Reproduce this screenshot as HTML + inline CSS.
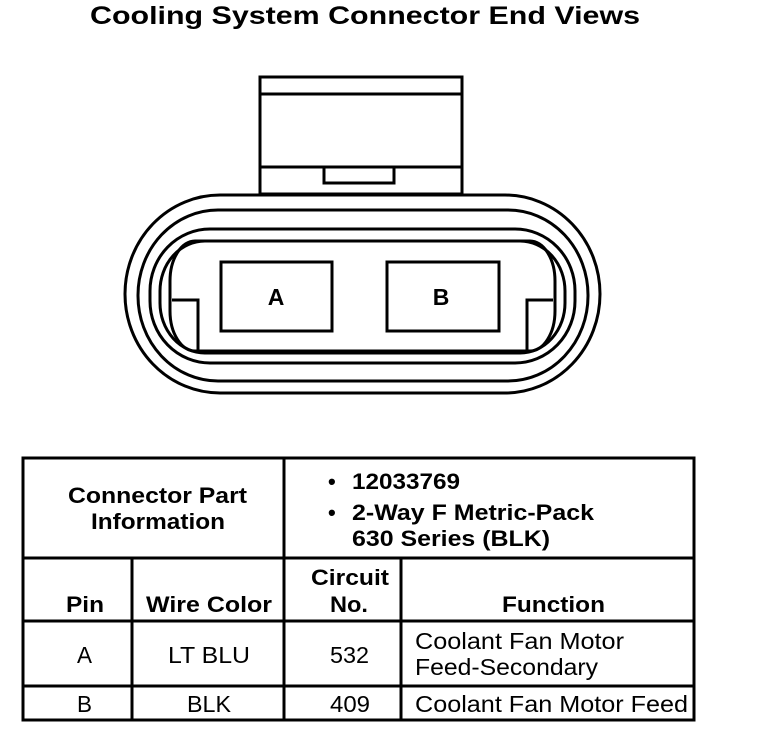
<!DOCTYPE html>
<html><head><style>
body{margin:0;width:768px;height:732px;background:#fff;overflow:hidden;font-family:"Liberation Sans",sans-serif;}
</style></head><body>
<svg width="768" height="732" viewBox="0 0 768 732" xmlns="http://www.w3.org/2000/svg" style="position:absolute;left:0;top:0">
<text x="90" y="24" textLength="550" lengthAdjust="spacingAndGlyphs" font-family="Liberation Sans" font-weight="bold" font-size="25" fill="#000">Cooling System Connector End Views</text>
<g fill="none" stroke="#000" stroke-width="3">
<rect x="260" y="77" width="202" height="117"/>
<line x1="260" y1="94" x2="462" y2="94"/>
<line x1="260" y1="167" x2="462" y2="167"/>
<rect x="324" y="167" width="70" height="16"/>
<rect x="125" y="195" width="475" height="198" rx="95" ry="99" fill="#fff"/>
<rect x="138" y="210" width="450" height="171" rx="80" ry="85"/>
<rect x="150" y="229" width="425" height="134" rx="60" ry="62"/>
<rect x="160" y="241" width="405" height="112" rx="45" ry="50"/>
<rect x="170" y="241" width="385" height="110" rx="25" ry="40"/>
<rect x="221" y="262" width="111" height="69"/>
<rect x="387" y="262" width="112" height="69"/>
<polyline points="172,300 198,300 198,350"/>
<polyline points="553,300 527,300 527,350"/>
</g>
<text x="276" y="305" text-anchor="middle" font-weight="bold" font-size="23">A</text>
<text x="441" y="305" text-anchor="middle" font-weight="bold" font-size="23">B</text>
<g stroke="#000" stroke-width="3" fill="none">
<rect x="23" y="458" width="671" height="262"/>
<line x1="23" y1="558" x2="694" y2="558"/>
<line x1="23" y1="621" x2="694" y2="621"/>
<line x1="23" y1="686" x2="694" y2="686"/>
<line x1="284" y1="458" x2="284" y2="720"/>
<line x1="132" y1="558" x2="132" y2="720"/>
<line x1="401" y1="558" x2="401" y2="720"/>
</g>
<g font-size="22" font-weight="bold" fill="#000" lengthAdjust="spacingAndGlyphs">
<text x="68" y="503" textLength="179" lengthAdjust="spacingAndGlyphs">Connector Part</text>
<text x="91" y="529" textLength="134" lengthAdjust="spacingAndGlyphs">Information</text>
<text x="328" y="489">•</text>
<text x="352" y="489" textLength="108" lengthAdjust="spacingAndGlyphs">12033769</text>
<text x="328" y="520">•</text>
<text x="352" y="520" textLength="242" lengthAdjust="spacingAndGlyphs">2-Way F Metric-Pack</text>
<text x="352" y="546" textLength="198" lengthAdjust="spacingAndGlyphs">630 Series (BLK)</text>
<text x="66" y="612" textLength="38" lengthAdjust="spacingAndGlyphs">Pin</text>
<text x="146" y="612" textLength="126" lengthAdjust="spacingAndGlyphs">Wire Color</text>
<text x="311" y="585" textLength="78" lengthAdjust="spacingAndGlyphs">Circuit</text>
<text x="330" y="612" textLength="38" lengthAdjust="spacingAndGlyphs">No.</text>
<text x="502" y="612" textLength="103" lengthAdjust="spacingAndGlyphs">Function</text>
</g>
<g font-size="23" fill="#000">
<text x="77" y="663" textLength="15" lengthAdjust="spacingAndGlyphs">A</text>
<text x="168" y="663" textLength="82" lengthAdjust="spacingAndGlyphs">LT BLU</text>
<text x="330" y="663" textLength="39" lengthAdjust="spacingAndGlyphs">532</text>
<text x="415" y="649" textLength="209" lengthAdjust="spacingAndGlyphs">Coolant Fan Motor</text>
<text x="415" y="675" textLength="183" lengthAdjust="spacingAndGlyphs">Feed-Secondary</text>
<text x="77" y="712" textLength="15" lengthAdjust="spacingAndGlyphs">B</text>
<text x="187" y="712" textLength="44" lengthAdjust="spacingAndGlyphs">BLK</text>
<text x="330" y="712" textLength="40" lengthAdjust="spacingAndGlyphs">409</text>
<text x="415" y="712" textLength="273" lengthAdjust="spacingAndGlyphs">Coolant Fan Motor Feed</text>
</g>
</svg>
</body></html>
